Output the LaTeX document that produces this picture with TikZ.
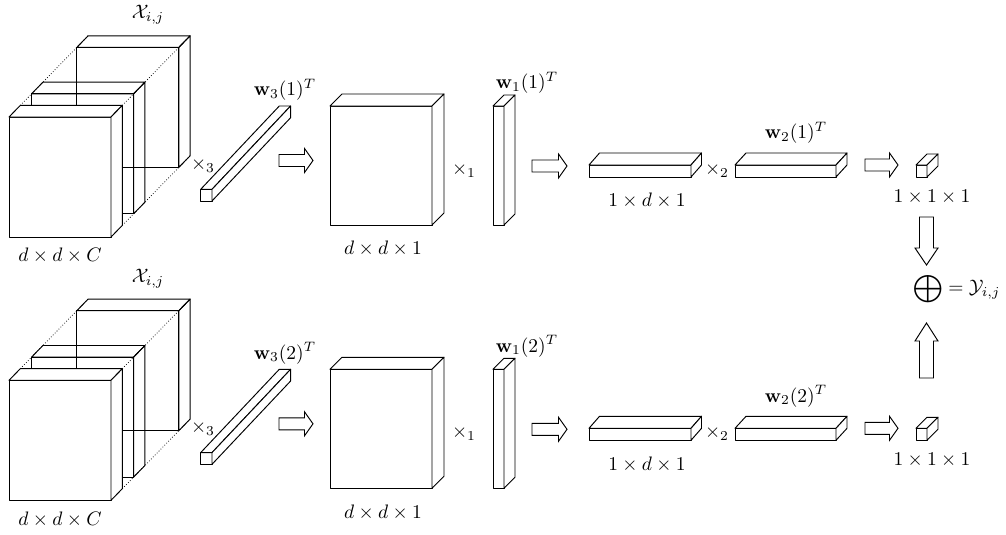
\documentclass[tikz,border=0pt]{standalone}
\usepackage{amsmath}
\begin{document}
\begin{tikzpicture}[x=1pt,y=-1pt,
  blockline/.style={line width=0.95pt, line join=round},
  dotline/.style={line width=0.75pt, dotted},
  hollow/.style={draw, fill=white, line width=0.95pt, line join=miter},
  lbl/.style={inner sep=0pt, scale=1.95}]
\useasboundingbox (0,0) rectangle (1006,535);

% cuboid: [style] {x}{y} of front top-left corner, {w}{h} of front face, {dx}{dy} depth
\newcommand{\drawblock}[7][fill=white]{%
  \draw[blockline,#1] (#2,#3) rectangle ++(#4,#5);
  \draw[blockline,#1] (#2,#3) -- ++(#6,-#7) -- ++(#4,0) -- ++(-#6,#7) -- cycle;
  \draw[blockline,#1] (#2+#4,#3) -- ++(#6,-#7) -- ++(0,#5) -- ++(-#6,#7) -- cycle;
}
% hollow right arrow: {tail x}{tip x}{centre y}
\newcommand{\rightfat}[3]{%
  \draw[hollow] (#1,#3-6) -- (#2-8.5,#3-6) -- (#2-8.5,#3-12) -- (#2,#3)
    -- (#2-8.5,#3+12) -- (#2-8.5,#3+6) -- (#1,#3+6) -- cycle;
}

\foreach \r/\dy in {1/0, 2/263.3}{
\begin{scope}[shift={(0,\dy)}]
  % input tensor: dotted outline, two slices behind, one solid slice in front
  \draw[dotline] (20.3,105.4) -- (88.1,35.8);
  \draw[dotline] (122.3,105.4) -- (190.1,35.8);
  \draw[dotline] (122.3,225.4) -- (190.1,155.8);
  \drawblock[fill=none]{76.8}{47.4}{102}{120}{11.3}{11.6}
  \drawblock[fill=none]{31.6}{93.8}{102}{120}{11.3}{11.6}
  \drawblock{9}{117}{102}{120}{11.3}{11.6}
  \node[lbl] (X\r) at (148,15) {$\mathcal{X}_{i,j}$};
  \node[lbl] (dim\r) at (60,256) {$d\times d\times C$};

  % mode-3 product
  \node[lbl] (m3\r) at (203,165) {$\times_3$};
  \drawblock{200.7}{189.3}{11.3}{11.7}{78.6}{83.3}
  \node[lbl] (w3\r) at (285,90) {$\mathbf{w}_3(\r)^T$};
  \rightfat{279}{313}{160.5}

  % d x d x 1 slice
  \drawblock{330}{106}{102}{119}{12}{12}
  \node[lbl] (dd\r) at (383,249) {$d\times d\times 1$};

  % mode-1 product
  \node[lbl] (m1\r) at (464,170) {$\times_1$};
  \drawblock{493}{106}{11}{119}{11}{11}
  \node[lbl] (w1\r) at (527,83) {$\mathbf{w}_1(\r)^T$};
  \rightfat{532}{567}{166}

  % 1 x d x 1 row
  \drawblock{589}{165}{102}{12}{10.5}{12}
  \node[lbl] (row\r) at (647,201) {$1\times d\times 1$};

  % mode-2 product
  \node[lbl] (m2\r) at (717,170) {$\times_2$};
  \drawblock{735}{165}{101}{12}{11}{12}
  \node[lbl] (w2\r) at (796,133) {$\mathbf{w}_2(\r)^T$};
  \rightfat{865}{898}{165}

  % scalar result
  \drawblock{916}{165}{11}{12}{11}{11}
  \node[lbl] (one\r) at (932,197) {$1\times 1\times 1$};
\end{scope}
}

% summation of both branches
\draw[hollow] (919.5,217) -- (933.5,217) -- (933.5,248) -- (938,248) -- (926.5,265)
  -- (915,248) -- (919.5,248) -- cycle;
\draw[hollow] (919.5,378) -- (933.5,378) -- (933.5,341) -- (938,341) -- (926.5,323)
  -- (915,341) -- (919.5,341) -- cycle;
\node[lbl, anchor=west] (sum) at (913,289) {$\displaystyle\bigoplus = \mathcal{Y}_{i,j}$};
\end{tikzpicture}
\end{document}
